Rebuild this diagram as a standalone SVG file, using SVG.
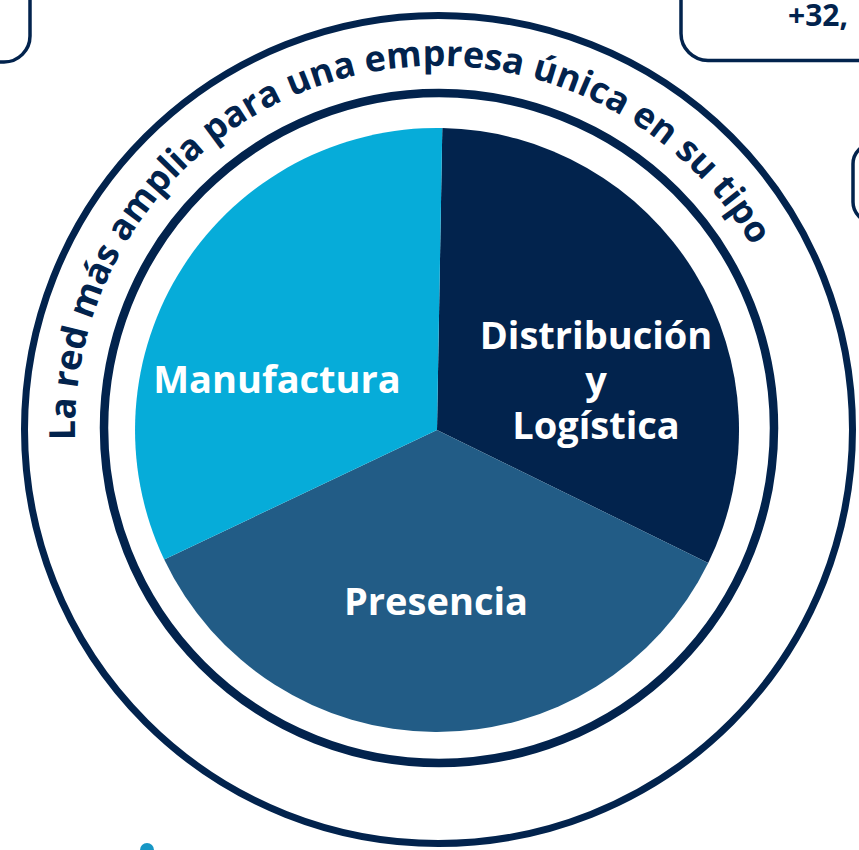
<svg xmlns="http://www.w3.org/2000/svg" width="859" height="850" viewBox="0 0 859 850">
  <style>
    .box { fill: none; stroke: #02234d; stroke-width: 3.5; }
    .ring { fill: none; stroke: #02234d; }
    .lbl { font-family: "Open Sans", "Noto Sans", sans-serif; font-weight: 700; font-size: 38px; fill: #ffffff; text-anchor: middle; }
    .arc { font-family: "Open Sans", "Noto Sans", sans-serif; font-weight: 700; font-size: 36px; fill: #02234d; }
    .stat { font-family: "Open Sans", "Noto Sans", sans-serif; font-weight: 700; font-size: 30px; fill: #02234d; }
  </style>
  <defs>
    <path id="textArc" d="M 75.2 440 A 363 363 0 1 1 779.1 553.2"/>
  </defs>
  <rect width="859" height="850" fill="#ffffff"/>

  <g id="box-top-left">
    <rect class="box" x="-60" y="-40" width="90" height="102" rx="26"/>
  </g>
  <g id="box-top-right">
    <rect class="box" x="681" y="-40" width="240" height="100.5" rx="27"/>
    <text class="stat" x="788" y="26">+32,</text>
  </g>
  <g id="box-right">
    <rect class="box" x="853" y="144" width="60" height="78" rx="20"/>
  </g>

  <g id="outer-ring">
    <circle class="ring" cx="438.5" cy="429.5" r="414" stroke-width="7"/>
    <text class="arc"><textPath href="#textArc">La red más amplia para una empresa única en su tipo</textPath></text>
  </g>
  <g id="inner-ring">
    <circle class="ring" cx="439" cy="428" r="335" stroke-width="8.5"/>
  </g>

  <g id="slice-distribucion">
    <path d="M437,430 L442.3,128.05 A302,302 0 0 1 708.2,562.9 Z" fill="#02234d"/>
    <text class="lbl" x="596" y="349">Distribución</text>
    <text class="lbl" x="596" y="394">y</text>
    <text class="lbl" x="596" y="439">Logística</text>
  </g>
  <g id="slice-presencia">
    <path d="M437,430 L708.2,562.9 A302,302 0 0 1 164.2,559.5 Z" fill="#225c86"/>
    <text class="lbl" x="436" y="615">Presencia</text>
  </g>
  <g id="slice-manufactura">
    <path d="M437,430 L164.2,559.5 A302,302 0 0 1 442.3,128.05 Z" fill="#06acd9"/>
    <text class="lbl" x="277" y="393">Manufactura</text>
  </g>

  <g id="dot">
    <circle cx="147" cy="850" r="7" fill="#1797c5"/>
  </g>
</svg>
